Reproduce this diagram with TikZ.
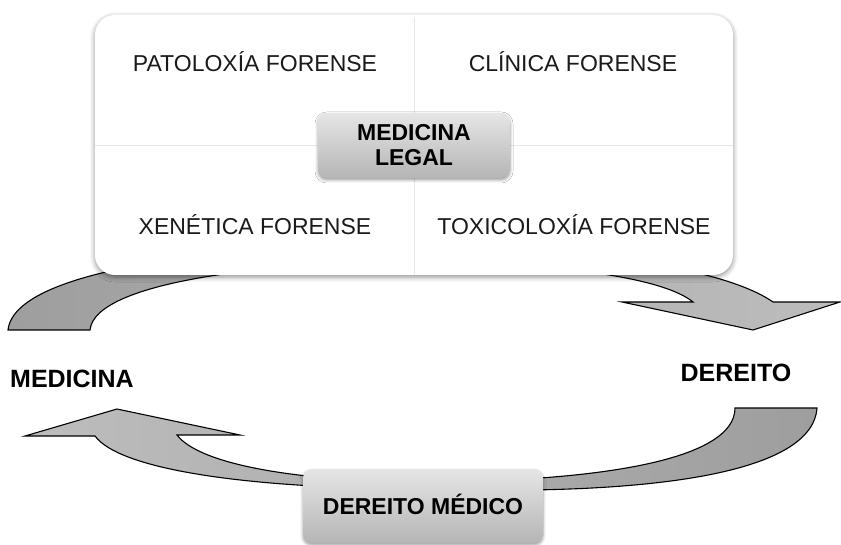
\documentclass[tikz,border=0pt]{standalone}
\usepackage{fontspec}
\setmainfont{Liberation Sans}
\usetikzlibrary{shadows.blur}
\definecolor{arrowdark}{HTML}{9E9E9E}
\definecolor{arrowlight}{HTML}{BDBDBD}
\definecolor{divider}{HTML}{E8E8E8}
\definecolor{txt}{HTML}{1A1A1A}
\tikzset{
  panel/.style={draw=none, fill=white, rounded corners=20pt, inner sep=0pt,
    blur shadow={shadow xshift=0pt, shadow yshift=-2pt, shadow blur radius=5pt, shadow opacity=45}},
  celltext/.style={inner sep=0pt, text=txt, text height=16.5pt, text depth=0pt,
    font=\fontsize{23}{27}\selectfont},
  graybox/.style={draw=none, rounded corners=9pt, top color=black!10, bottom color=black!29,
    inner sep=0pt, align=center, font=\fontsize{23}{25}\bfseries\selectfont,
    blur shadow={shadow xshift=0pt, shadow yshift=-2pt, shadow blur radius=3pt, shadow opacity=40}},
  sidelabel/.style={inner sep=0pt, text height=17.9pt, text depth=0pt,
    font=\fontsize{25}{28}\bfseries\selectfont},
  curvedarrow/.style={draw=black, line width=1.1pt, line join=miter}
}
\begin{document}
\begin{tikzpicture}[x=1pt,y=-1pt]
\useasboundingbox (0,0) rectangle (841,545);

% top curved arrow (MEDICINA -> DEREITO)
\shadedraw[curvedarrow, left color=arrowdark, right color=arrowlight]
  (8,330) -- (90,330)
  .. controls (95,280) and (280,262) .. (410,262)
  .. controls (540,262) and (660,275) .. (693,302)
  -- (622,302) -- (753,330) -- (840,302) -- (773,302)
  .. controls (720,265) and (560,245) .. (400,245)
  .. controls (250,245) and (15,265) .. (8,330) -- cycle;

% bottom curved arrow (DEREITO -> MEDICINA)
\shadedraw[curvedarrow, left color=arrowlight, right color=arrowdark]
  (735,408) -- (817,408)
  .. controls (812,480) and (620,495) .. (430,489)
  .. controls (250,489) and (120,470) .. (95,436)
  -- (25,436) -- (117,409) -- (240,435) -- (177,435)
  .. controls (200,465) and (300,482) .. (430,482)
  .. controls (600,481) and (735,460) .. (735,408) -- cycle;

% main panel
\node[panel, minimum width=638pt, minimum height=260pt] (panel) at (414,145) {};
\draw[divider, line width=0.8pt] (panel.north) ++(0,2) -- (panel.south);
\draw[divider, line width=0.8pt] (panel.west) -- (panel.east);

\node[celltext] (pat) at (255,63.5) {PATOLOXÍA FORENSE};
\node[celltext] (cli) at (573,63.5) {CLÍNICA FORENSE};
\node[celltext] (xen) at (255,226.5) {XENÉTICA FORENSE};
\node[celltext] (tox) at (574,226.5) {TOXICOLOXÍA FORENSE};

\node[graybox, minimum width=192pt, minimum height=65pt] (ml) at (414,145.5) {MEDICINA\\LEGAL};

\node[graybox, minimum width=240pt, minimum height=74pt, text height=16.5pt, text depth=0pt] (dm) at (423,506) {DEREITO MÉDICO};

\node[sidelabel, anchor=west] (med) at (10,379) {MEDICINA};
\node[sidelabel] (der) at (736,372.5) {DEREITO};
\end{tikzpicture}
\end{document}
